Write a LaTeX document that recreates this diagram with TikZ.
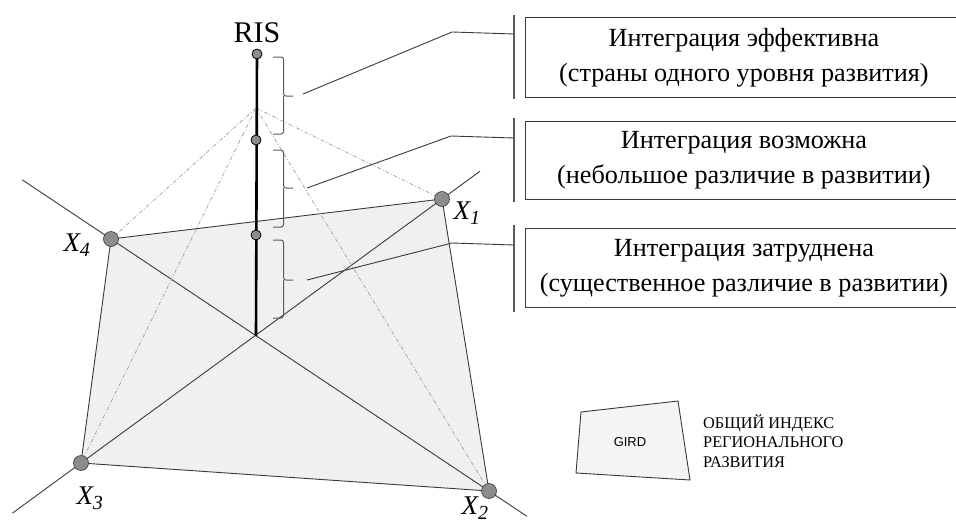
\documentclass[tikz,border=0pt]{standalone}
\usepackage{fontspec}
\setmainfont{Liberation Serif}
\newfontfamily\girdfont{Liberation Sans}
\usetikzlibrary{calc}
\definecolor{quadfill}{gray}{0.94}
\definecolor{edgecol}{HTML}{3A3A3A}
\definecolor{dotfill}{HTML}{8C8C8C}
\definecolor{dashcol}{HTML}{A8A8A8}
\definecolor{barcol}{HTML}{5A5A5A}
\begin{document}
\begin{tikzpicture}[x=1pt,y=-1pt,
  edge/.style={draw=edgecol, line width=0.9pt},
  guide/.style={draw=dashcol, line width=0.8pt, dash pattern=on 4pt off 2pt on 1pt off 2pt},
  axisline/.style={draw=black, line width=2.6pt},
  vdot/.style={circle, fill=dotfill, draw=edgecol, line width=0.6pt, minimum width=14pt, minimum height=15pt, inner sep=0pt},
  rdot/.style={circle, fill=dotfill, draw=black, line width=0.8pt, minimum size=10pt, inner sep=0pt},
  bracket/.style={draw=barcol, line width=1pt, rounded corners=2.5pt},
  leader/.style={draw=edgecol, line width=0.9pt},
  sidebar/.style={draw=barcol, line width=1.2pt},
  infobox/.style={draw=edgecol, line width=0.9pt, minimum width=437pt, minimum height=80pt, align=center, inner sep=0pt, font=\fontsize{26.2}{35}\selectfont},
  vlabel/.style={font=\fontsize{27}{27}\selectfont\itshape, inner sep=0pt},
  legendtext/.style={font=\fontsize{16.3}{19.5}\selectfont, align=left, inner sep=0pt, anchor=west}]

\clip (0,0) rectangle (956,525);

% corners of the GIRD quadrilateral, centre and apex of the RIS axis
\coordinate (X1) at (442,199);
\coordinate (X2) at (489,491);
\coordinate (X3) at (81,463);
\coordinate (X4) at (111,239);
\coordinate (O) at (256,336);
\coordinate (A) at (256,108);
\coordinate (T) at (257,54);

% extended diagonals
\coordinate (d4) at ($(X4)!-0.235!(X2)$);
\coordinate (d2) at ($(X2)!-0.10!(X4)$);
\coordinate (d1) at ($(X1)!-0.105!(X3)$);
\coordinate (d3) at ($(X3)!-0.19!(X1)$);

% quadrilateral
\fill[quadfill] (X4) -- (X1) -- (X2) -- (X3) -- cycle;
\draw[edge] (X4) -- (X1) -- (X2) -- (X3) -- cycle;
\draw[edge] (d4) -- (d2);
\draw[edge] (d1) -- (d3);

% guide lines from the axis to the corners
\draw[guide] (A) -- (X4);
\draw[guide] (A) -- (X1);
\draw[guide] (A) -- (X3);
\draw[guide] (A) -- (X2);

% RIS axis
\draw[axisline] (O) -- (T);
\node[rdot] (r1) at (T) {};
\node[rdot] (r2) at (256,140) {};
\node[rdot] (r3) at (256,235) {};
\node[font=\fontsize{30}{30}\selectfont, anchor=base, inner sep=0pt] (ris) at (257,42) {RIS};

% corner dots and labels
\node[vdot] (p1) at (X1) {};
\node[vdot] (p2) at (X2) {};
\node[vdot] (p3) at (X3) {};
\node[vdot] (p4) at (X4) {};
\node[vlabel] (l1) at (467,213) {X\textsubscript{\fontsize{20}{20}\selectfont\itshape 1}};
\node[vlabel] (l2) at (475,508) {X\textsubscript{\fontsize{20}{20}\selectfont\itshape 2}};
\node[vlabel] (l3) at (90,498) {X\textsubscript{\fontsize{20}{20}\selectfont\itshape 3}};
\node[vlabel] (l4) at (77,245) {X\textsubscript{\fontsize{20}{20}\selectfont\itshape 4}};

% brackets along the axis
\draw[bracket] (273,57) -- (283.5,57) -- (283.5,96) -- (293,96);
\draw[bracket] (283.5,96) -- (283.5,134) -- (273,134);
\draw[bracket] (273,150) -- (283.5,150) -- (283.5,188) -- (293,188);
\draw[bracket] (283.5,188) -- (283.5,227) -- (273,227);
\draw[bracket] (273,240) -- (283.5,240) -- (283.5,280) -- (293,280);
\draw[bracket] (283.5,280) -- (283.5,318) -- (273,318);

% side bars and boxes
\draw[sidebar] (514,15) coordinate (s1a) -- (514,99) coordinate (s1b);
\draw[sidebar] (514,118) coordinate (s2a) -- (514,202) coordinate (s2b);
\draw[sidebar] (514,225) coordinate (s3a) -- (514,312) coordinate (s3b);

\node[infobox, anchor=north west] (b1) at (525,17) {Интеграция эффективна\\(страны одного уровня развития)};
\node[infobox, anchor=north west, minimum height=78pt] (b2) at (525,121) {Интеграция возможна\\(небольшое различие в развитии)};
\node[infobox, anchor=north west, minimum height=79pt] (b3) at (525,228) {Интеграция затруднена\\(существенное различие в развитии)};

% leaders from the brackets to the bars
\coordinate (c1s) at (303,94);  \coordinate (c1k) at (452,32);  \coordinate (c1e) at (514,34);
\coordinate (c2s) at (307,188); \coordinate (c2k) at (451,136); \coordinate (c2e) at (514,138);
\coordinate (c3s) at (307,280); \coordinate (c3k) at (452,243); \coordinate (c3e) at (514,245);
\draw[leader] (c1s) -- (c1k) -- (c1e);
\draw[leader] (c2s) -- (c2k) -- (c2e);
\draw[leader] (c3s) -- (c3k) -- (c3e);

% legend
\draw[draw=edgecol, fill=quadfill!70, line width=0.9pt] (581,412) -- (678,401) -- (690,480) -- (576,473) -- cycle;
\node[font=\girdfont\fontsize{13}{13}\selectfont, inner sep=0pt] (gird) at (630,442) {GIRD};
\node[legendtext] (legend) at (703,441) {ОБЩИЙ ИНДЕКС\\РЕГИОНАЛЬНОГО\\РАЗВИТИЯ};
\end{tikzpicture}
\end{document}
